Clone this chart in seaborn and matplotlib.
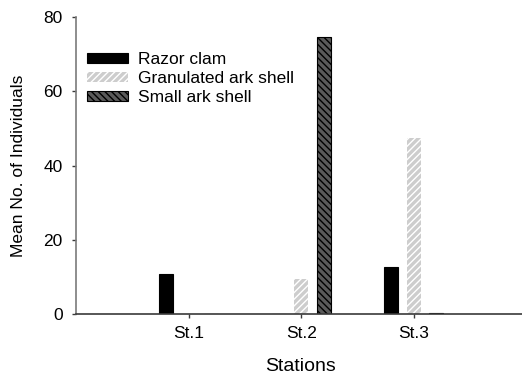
import matplotlib
matplotlib.use("Agg")
import matplotlib.pyplot as plt
import seaborn as sns
import pandas as pd
from matplotlib.patches import Patch

stations = ["St.1", "St.2", "St.3"]
species = ["Razor clam", "Granulated ark shell", "Small ark shell"]
razor_clam = [10.8, 0.0, 12.7]
granulated_ark = [0.0, 9.3, 47.3]
small_ark = [0.0, 74.6, 0.3]
y_ticks = [0, 20, 40, 60, 80]

rows = []
for sp, vals in zip(species, [razor_clam, granulated_ark, small_ark]):
    for st, v in zip(stations, vals):
        rows.append({"Station": st, "Species": sp, "Value": v})
df = pd.DataFrame(rows)

sns.set_style("white")
plt.rcParams["font.family"] = ["Liberation Sans", "DejaVu Sans"]
plt.rcParams["hatch.linewidth"] = 1.0
plt.rcParams["text.color"] = "black"
plt.rcParams["axes.labelcolor"] = "black"

fig = plt.figure(figsize=(5.22, 3.76), dpi=100)
ax = fig.add_axes([76 / 522, 62.3 / 376, 446 / 522, 296.4 / 376])

styles = {
    "Razor clam": dict(fc="black", ec="black", hatch=None, lw=0.8),
    "Granulated ark shell": dict(fc="#cdcdcd", ec="white", hatch="/////", lw=0.0),
    "Small ark shell": dict(fc="#5a5a5a", ec="black", hatch="\\\\\\\\\\", lw=0.8),
}

sns.barplot(data=df, x="Station", y="Value", hue="Species", order=stations,
            hue_order=species, width=0.6, gap=0.375, ax=ax, legend=False,
            errorbar=None)

for container, sp in zip(ax.containers, species):
    st = styles[sp]
    for bar in container:
        bar.set_facecolor(st["fc"])
        bar.set_edgecolor(st["ec"])
        bar.set_linewidth(st["lw"])
        if st["hatch"]:
            bar.set_hatch(st["hatch"])

ax.set_xlim(-1.0, 2.96)
ax.set_ylim(0, 80)
ax.set_yticks(y_ticks)
ax.set_yticklabels([str(t) for t in y_ticks])
ax.set_xlabel("Stations", fontsize=14, color="black")
ax.set_ylabel("Mean No. of Individuals", fontsize=12.5, color="black")
ax.xaxis.set_label_coords(0.504, -0.151)
ax.yaxis.set_label_coords(-0.112, 0.5)

for s in ["top", "right"]:
    ax.spines[s].set_visible(False)
ax.spines["left"].set_color("#7a7a7a")
ax.spines["bottom"].set_color("#3a3a3a")
ax.spines["left"].set_linewidth(1.2)
ax.spines["bottom"].set_linewidth(1.2)
ax.tick_params(axis="both", direction="out", length=3, width=1, colors="#3a3a3a",
               labelsize=12.5, labelcolor="black", left=True, bottom=True)
ax.tick_params(axis="x", pad=5.5)
ax.tick_params(axis="y", pad=6.5)

handles = [Patch(facecolor=styles[sp]["fc"], edgecolor=styles[sp]["ec"],
                 hatch=styles[sp]["hatch"], linewidth=styles[sp]["lw"]) for sp in species]
ax.legend(handles, species, loc="upper left", bbox_to_anchor=(0.0247, 0.883),
          frameon=False, fontsize=12.5, handlelength=2.34, handleheight=0.46,
          handletextpad=0.6, labelspacing=0.23, borderaxespad=0.0, borderpad=0.0,
          labelcolor="black")

fig.savefig("out.png", dpi=100)
